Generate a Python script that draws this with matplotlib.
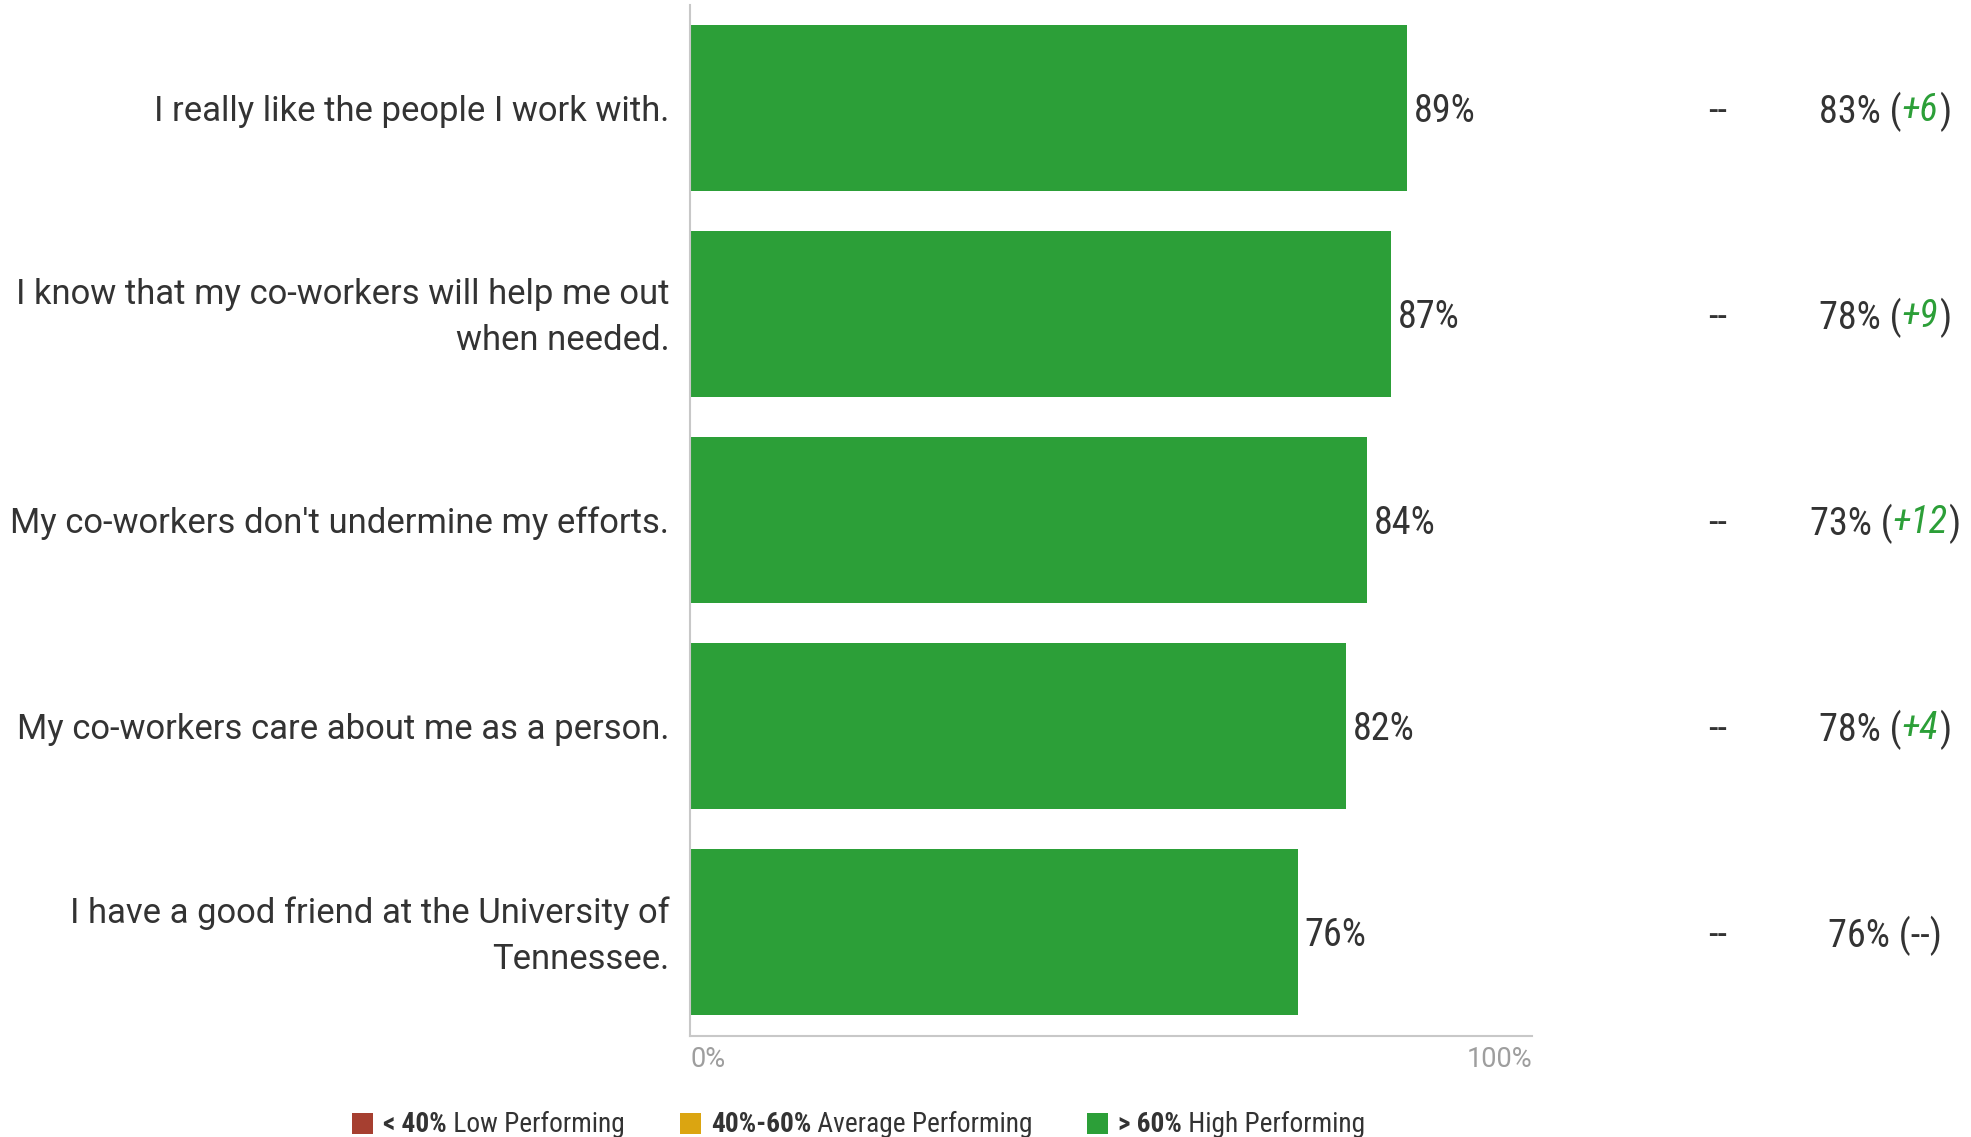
import matplotlib
matplotlib.use("Agg")
import matplotlib.pyplot as plt
from matplotlib import font_manager as fm
from matplotlib.transforms import IdentityTransform
from matplotlib.patches import Rectangle

# ---------------- data ----------------
categories = [
    "I really like the people I work with.",
    "I know that my co-workers will help me out\nwhen needed.",
    "My co-workers don't undermine my efforts.",
    "My co-workers care about me as a person.",
    "I have a good friend at the University of\nTennessee.",
]
scores = [89.4, 87.4, 84.4, 81.8, 75.8]      # bar lengths
benchmark = ["--", "--", "--", "--", "--"]
previous = [83, 78, 73, 78, 76]
changes = ["+6", "+9", "+12", "+4", "--"]
x_tick_labels = ["0%", "100%"]
legend_bold = ["< 40%", "40%-60%", "> 60%"]
legend_text = [" Low Performing", " Average Performing", " High Performing"]
legend_colors = ["#a63f30", "#dba511", "#2c9f38"]

# ---------------- fonts ----------------
names = {f.name for f in fm.fontManager.ttflist}
cond = next((n for n in ["Roboto Condensed", "Liberation Sans Narrow", "Roboto"] if n in names), "DejaVu Sans")
reg = "Roboto" if "Roboto" in names else "DejaVu Sans"

GREEN = "#2c9f38"
TEXT = "#333333"
GRAY_AX = "#c8c8c8"

W, H = 1971, 1137
fig = plt.figure(figsize=(W / 100, H / 100), dpi=100)
ax = fig.add_axes([690 / W, 1 - 1036 / H, 842 / W, 1031 / H])

y = list(range(len(categories)))
ax.barh(y, scores, height=0.806, color=GREEN)
ax.set_xlim(0, 105)
ax.set_ylim(4.505, -0.5)

for s in ["top", "right"]:
    ax.spines[s].set_visible(False)
for s in ["left", "bottom"]:
    ax.spines[s].set_color(GRAY_AX)
    ax.spines[s].set_linewidth(1.5)

ax.set_xticks([])
ax.set_yticks([])

# category labels
for i, cat in enumerate(categories):
    multi = "\n" in cat
    ax.annotate(cat, xy=(0, i), xycoords=("axes fraction", "data"),
                xytext=(-15, -2.8 if multi else 0), textcoords="offset points",
                ha="right", va=("center" if multi else "center_baseline"),
                multialignment="right", fontfamily=reg, fontsize=24.9,
                color=TEXT, linespacing=1.5)

# x-axis edge labels
ax.text(0, -0.01, x_tick_labels[0], transform=ax.transAxes, ha="left", va="top",
        fontfamily=reg, fontsize=19.5, color="#9e9e9e")
ax.text(1, -0.01, x_tick_labels[1], transform=ax.transAxes, ha="right", va="top",
        fontfamily=reg, fontsize=19.5, color="#9e9e9e")

# value labels
for i, v in enumerate(scores):
    ax.annotate(f"{round(v)}%", (v, i), xytext=(5, 0), textcoords="offset points",
                ha="left", va="center_baseline", fontfamily=cond, fontsize=27.5, color=TEXT)

renderer = fig.canvas.get_renderer()
ident = IdentityTransform()


def draw_pieces(x, yy, pieces, align="left", va="center_baseline"):
    objs = []
    widths = []
    for txt, props in pieces:
        t = fig.text(0, 0, txt, transform=ident, ha="left", va=va, **props)
        widths.append(t.get_window_extent(renderer=renderer).width)
        objs.append(t)
    total = sum(widths)
    if align == "center":
        start = x - total / 2
    elif align == "right":
        start = x - total
    else:
        start = x
    cx = start
    for t, w in zip(objs, widths):
        t.set_position((cx, yy))
        cx += w
    return total


# benchmark and previous columns
for i in range(len(categories)):
    yd = ax.transData.transform((0, i))[1]
    fig.text(1718, yd, benchmark[i], transform=ident, ha="center", va="center_baseline",
             fontfamily=cond, fontsize=27.5, color=TEXT)
    base = dict(fontfamily=cond, fontsize=27.5, color=TEXT)
    if changes[i] == "--":
        pieces = [(f"{previous[i]}% (--)", base)]
    else:
        pieces = [(f"{previous[i]}% (", base),
                  (changes[i], dict(fontfamily=cond, fontsize=27.5, color=GREEN, style="italic")),
                  (")", base)]
    draw_pieces(1885, yd + 1, pieces, align="center")

# legend
leg_x = [352, 680, 1087]
leg_y = H - 1123
for lx, b, tx, c in zip(leg_x, legend_bold, legend_text, legend_colors):
    fig.patches.append(Rectangle((lx, leg_y - 10.5), 21, 21, transform=ident,
                                 facecolor=c, edgecolor="none", figure=fig))
    draw_pieces(lx + 31, leg_y + 1.5, [(b, dict(fontfamily=cond, fontsize=19.7, color=TEXT, fontweight="bold")),
                                       (tx, dict(fontfamily=cond, fontsize=19.7, color=TEXT))])

fig.savefig("out.png", dpi=100)
